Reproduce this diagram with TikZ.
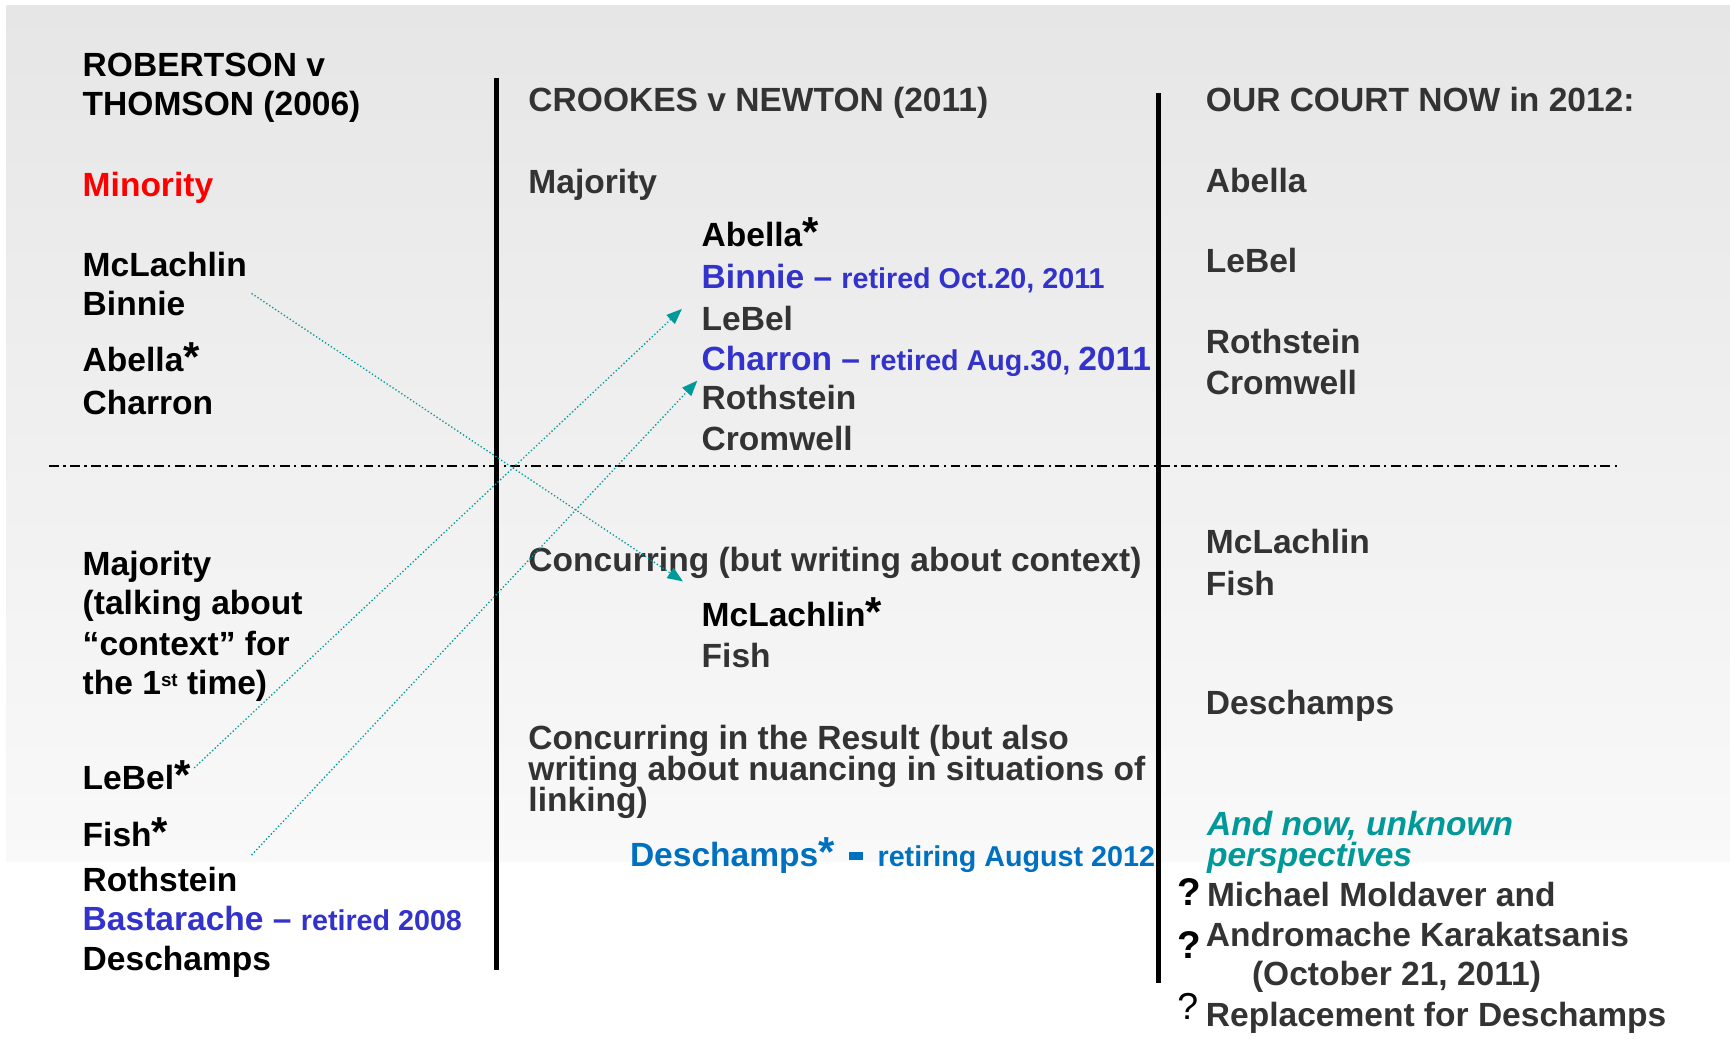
\documentclass[tikz,border=0pt]{standalone}
\usepackage{fontspec}
\setmainfont{Liberation Sans}
\usetikzlibrary{arrows.meta}
\definecolor{txtgray}{HTML}{333333}
\definecolor{judgeblue}{HTML}{3333CC}
\definecolor{deschblue}{HTML}{0070C0}
\definecolor{tealc}{HTML}{009999}
\definecolor{bgtop}{HTML}{E6E6E6}
\definecolor{bgbot}{HTML}{F9F9F9}
\newcommand\supstar{{\fontsize{19}{19}\selectfont *}}
\newcommand\smallsz{\fontsize{13}{13}\selectfont}
\begin{document}
\begin{tikzpicture}[x=0.5pt,y=-0.5pt,
  lbl/.style={anchor=base west, inner sep=0pt, outer sep=0pt, font=\bfseries\fontsize{15.2}{15.2}\selectfont},
  blk/.style={lbl,text=black},
  gry/.style={lbl,text=txtgray},
  blu/.style={lbl,text=judgeblue},
  tealtxt/.style={lbl,text=tealc,font=\bfseries\itshape\fontsize{15.2}{15.2}\selectfont},
  qbold/.style={lbl,text=black,font=\bfseries\fontsize{17.5}{17.5}\selectfont},
  qreg/.style={lbl,text=black,font=\fontsize{17}{17}\selectfont},
  divider/.style={line width=2.2pt, black},
  splitline/.style={line width=0.7pt, black, dash pattern=on 4.5pt off 2pt on 1pt off 2pt},
  link/.style={tealc, line width=0.6pt, densely dotted, -{Triangle[length=7pt,width=5.5pt]}}
]
\useasboundingbox (0,0) rectangle (1568,941.7);
% background
\fill[top color=bgtop, bottom color=bgbot] (6,5) rectangle (1568,781);

% dividers
\coordinate (d1t) at (450,71);  \coordinate (d1b) at (450,879);
\coordinate (d2t) at (1050,84); \coordinate (d2b) at (1050,891);
\coordinate (hl) at (44.5,422.5); \coordinate (hr) at (1468,422.5);
\draw[divider] (d1t) -- (d1b);
\draw[divider] (d2t) -- (d2b);
\draw[splitline] (hl) -- (hr);

% left column
\node[blk] (lHead1) at (75,69) {ROBERTSON v};
\node[blk] (lHead2) at (75,105) {THOMSON (2006)};
\node[lbl,text=red] (lMin) at (75,178) {Minority};
\node[blk] (lMcL) at (75,250.8) {McLachlin};
\node[blk] (lBin) at (75,286.4) {Binnie};
\node[blk] (lAbe) at (75,336.9) {Abella\supstar};
\node[blk] (lCha) at (75,376.1) {Charron};
\node[blk] (lMaj1) at (75,521.2) {Majority};
\node[blk] (lMaj2) at (75,557.4) {(talking about};
\node[blk] (lMaj3) at (75,593.7) {“context” for};
\node[blk] (lMaj4) at (75,629.9) {the 1\raisebox{3.75pt}{\fontsize{8.5}{8.5}\selectfont st} time)};
\node[blk] (lLeB) at (75,716) {LeBel\supstar};
\node[blk] (lFis) at (75,767.4) {Fish\supstar};
\node[blk] (lRot) at (75,808.2) {Rothstein};
\node[blu] (lBas) at (75,843) {Bastarache – {\smallsz retired 2008}};
\node[blk] (lDes) at (75,879.2) {Deschamps};

% middle column
\node[gry] (mHead) at (479,101.2) {CROOKES v NEWTON (2011)};
\node[gry] (mMaj) at (479,175.2) {Majority};
\node[blk] (mAbe) at (636,223.6) {Abella\supstar};
\node[blu] (mBin) at (636,261.3) {Binnie – {\smallsz retired Oct.20, 2011}};
\node[gry] (mLeB) at (636,299.1) {LeBel};
\node[blu] (mCha) at (636,335.4) {Charron – {\smallsz retired Aug.30, }2011};
\node[gry] (mRot) at (636,371.6) {Rothstein};
\node[gry] (mCro) at (636,407.9) {Cromwell};
\node[gry] (mCon) at (479,518.1) {Concurring (but writing about context)};
\node[blk] (mMcL) at (636,567.4) {McLachlin\supstar};
\node[gry] (mFis) at (636,605.2) {Fish};
\node[gry] (mRes1) at (479,679.2) {Concurring in the Result (but also};
\node[gry] (mRes2) at (479,707) {writing about nuancing in situations of};
\node[gry] (mRes3) at (479,735.7) {linking)};
\node[lbl,text=deschblue] (mDes) at (571,785.5) {Deschamps\supstar\hspace{6.5pt}\raisebox{3pt}{\rule{6.5pt}{3.8pt}}\hspace{6.5pt}{\smallsz retiring August 2012}};

% right column
\node[gry] (rHead) at (1093,101.2) {OUR COURT NOW in 2012:};
\node[gry] (rAbe) at (1093,174.6) {Abella};
\node[gry] (rLeB) at (1093,247) {LeBel};
\node[gry] (rRot) at (1093,320.3) {Rothstein};
\node[gry] (rCro) at (1093,357.4) {Cromwell};
\node[gry] (rMcL) at (1093,502.1) {McLachlin};
\node[gry] (rFis) at (1093,539.3) {Fish};
\node[gry] (rDes) at (1093,648) {Deschamps};
\node[tealtxt] (rNow1) at (1094,757) {And now, unknown};
\node[tealtxt] (rNow2) at (1094,785.5) {perspectives};
\node[qbold] (rQ1) at (1067,821) {?};
\node[gry] (rMol) at (1094,821.8) {Michael Moldaver and};
\node[qbold] (rQ2) at (1067,868.6) {?};
\node[gry] (rKar) at (1093,858) {Andromache Karakatsanis};
\node[gry] (rOct) at (1134.8,892.8) {(October 21, 2011)};
\node[qreg] (rQ3) at (1067,924) {?};
\node[gry] (rRep) at (1093,930.5) {Replacement for Deschamps};

% connectors
\coordinate (aBinS) at (228,266);  \coordinate (aBinE) at (619,527);
\coordinate (aLeBS) at (176,696);  \coordinate (aLeBE) at (618,280);
\coordinate (aFisS) at (228,775);  \coordinate (aFisE) at (632,345);
\draw[link] (aBinS) -- (aBinE);
\draw[link] (aLeBS) -- (aLeBE);
\draw[link] (aFisS) -- (aFisE);
\end{tikzpicture}
\end{document}
